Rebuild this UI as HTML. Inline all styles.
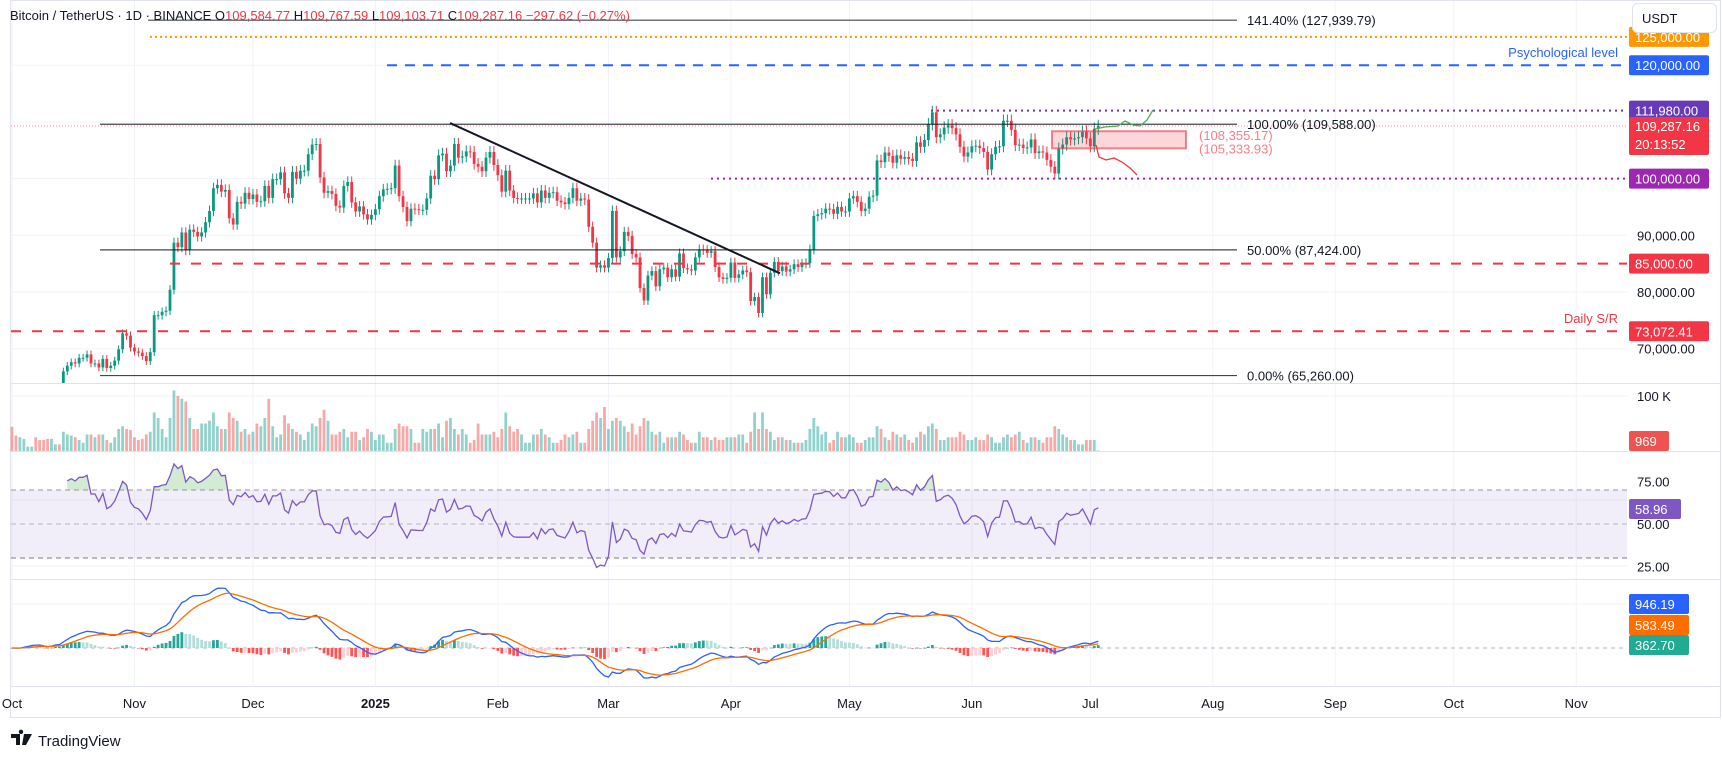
<!DOCTYPE html>
<html><head><meta charset="utf-8">
<style>
html,body{margin:0;padding:0;background:#fff;}
svg{display:block;font-family:"Liberation Sans",sans-serif;}
</style></head>
<body>
<svg id="chart" width="1722" height="760" viewBox="0 0 1722 760" xmlns="http://www.w3.org/2000/svg">
  <rect x="0" y="0" width="1722" height="760" fill="#ffffff"/>
  <g id="grid"></g>
  <rect x="11" y="490" width="1616" height="68" fill="#7e57c2" fill-opacity="0.1"/>
  <g id="main"></g>
  <g id="vol"></g>
  <g id="rsi"></g>
  <g id="macd"></g>
  <g id="draw"></g>
  <g id="axis"></g>
</svg>
<script>
// ---- data (daily, starting 2024-10-01), prices in thousands USDT
const closes = [
60.8,60.6,60.8,62.1,62.1,62.8,62.2,62.1,60.6,60.3,62.5,63.2,62.9,
66.0,67.0,67.6,67.4,68.4,68.4,69.0,67.4,67.4,66.7,68.2,66.6,67.0,67.9,69.9,72.7,72.3,70.2,
69.5,69.3,68.7,67.8,69.4,75.9,75.9,76.5,76.7,80.4,88.7,87.9,90.5,87.4,91.0,90.6,89.8,90.5,92.3,94.3,98.3,98.9,97.7,98.0,93.0,91.9,95.9,95.6,97.5,96.4,
97.2,95.9,96.0,98.7,96.6,99.9,99.9,101.1,97.4,96.6,101.2,100.0,101.4,101.4,104.3,106.0,106.1,100.2,97.5,97.8,97.3,95.2,94.9,98.7,99.4,95.8,94.2,95.1,93.7,92.8,93.6,
94.6,96.9,98.1,98.2,98.3,102.3,96.9,95.0,92.5,94.7,94.6,94.5,94.5,96.5,100.5,99.9,104.1,104.4,101.3,102.3,106.1,103.7,103.9,104.8,104.7,102.6,102.1,101.3,103.7,104.7,102.4,
100.6,97.7,101.4,97.9,96.6,96.5,96.5,96.5,96.5,97.4,95.8,97.9,96.6,97.5,97.6,96.1,95.8,95.5,96.6,98.3,96.1,96.5,96.3,91.5,88.7,84.3,84.7,84.3,
86.0,94.3,86.1,87.2,90.6,89.9,86.7,86.1,80.7,78.5,82.9,83.7,81.0,84.0,84.3,82.6,84.0,82.7,86.8,84.2,84.0,83.8,86.1,87.5,87.4,86.9,87.2,84.4,82.6,82.3,82.5,
85.2,82.5,83.1,83.8,83.5,78.4,79.1,76.3,82.6,79.6,83.4,85.3,83.7,84.5,83.6,84.0,84.9,84.4,85.0,85.1,87.5,93.4,93.7,93.9,94.7,94.6,93.8,95.0,94.2,94.2,
96.5,96.9,95.9,94.3,94.7,96.8,97.0,103.2,102.9,104.6,104.0,102.8,104.1,103.5,103.8,103.5,103.1,106.4,105.6,106.8,109.6,111.7,107.3,107.8,109.0,109.4,108.9,107.8,105.6,103.9,104.6,
105.7,105.8,105.4,104.7,101.6,104.3,105.6,105.7,110.2,110.2,108.6,105.9,106.0,105.4,105.5,106.9,104.5,104.8,104.6,103.3,102.1,100.9,105.3,106.0,107.3,106.9,107.1,107.3,108.3,107.1,
105.7,108.8,109.287
];
const firstOpen = 63.3;
const volumes = [
44,28,25,22,8,8,25,20,20,22,22,12,12,
35,30,28,25,20,15,30,30,25,30,30,20,15,25,40,45,40,38,
25,20,22,30,35,70,60,40,25,60,110,100,95,90,60,40,40,50,50,55,70,45,40,40,70,60,55,35,40,30,
35,50,45,60,95,45,25,30,65,50,40,35,30,20,35,50,45,60,75,55,30,30,35,40,25,35,35,20,25,40,35,
20,30,30,15,15,40,50,45,45,40,15,15,40,35,40,40,50,25,55,60,40,30,40,30,15,20,50,30,30,30,35,
25,40,70,45,35,40,30,15,15,30,30,40,30,25,15,15,20,30,25,30,35,15,15,40,55,70,60,80,
40,55,60,55,45,35,50,30,45,60,55,35,30,35,15,25,25,25,35,30,20,15,15,35,25,25,20,25,20,20,25,
25,25,30,30,15,35,70,40,70,40,35,20,25,25,20,20,15,15,15,20,40,60,45,30,35,15,20,35,25,25,
30,25,15,15,20,25,25,45,40,25,20,35,30,25,30,20,15,25,35,30,45,50,40,20,20,25,25,25,35,30,20,
20,25,20,20,30,25,15,15,25,30,25,30,35,20,15,25,25,20,15,25,25,45,40,30,25,20,20,12,12,20,
20,20,1
];
const monthLabels = ["Oct","Nov","Dec","2025","Feb","Mar","Apr","May","Jun","Jul","Aug","Sep","Oct","Nov"];
const monthDays = [0,31,61,92,123,151,182,212,243,273,304,335,365,396];
const priceTicks = [90,80,70];
const rsiTicks = [75,50,25];

// ---- axis functions
const NS="http://www.w3.org/2000/svg";
const PLOT_R=1627;
function xOf(d){return 12+d*3.95;}
function yP(p){return 292-(p-80)*5.67;}
function yV(v){return 451-v*0.55;}
function yR(v){return 524-(v-50)*1.7;}
function yM(v){return 648-v*0.0085;}
function el(tag,attrs,parent){const e=document.createElementNS(NS,tag);for(const k in attrs)e.setAttribute(k,attrs[k]);parent.appendChild(e);return e;}
const G=id=>document.getElementById(id);
const svg=G('chart');
const defs=el('defs',{},svg);
const cp=el('clipPath',{id:'mainclip'},defs); el('rect',{x:11,y:0,width:1616,height:383},cp);
const cp2=el('clipPath',{id:'obclip'},defs); el('rect',{x:0,y:460,width:1627,height:30},cp2);

// grid
const grid=G('grid');
monthDays.forEach(d=>{const l=el('line',{x1:xOf(d),x2:xOf(d),y1:0,y2:686,stroke:'#f0f3fa','stroke-width':1},grid);

});
[...[120,110,100,90,80,70].map(yP)].forEach(y=>{el('line',{x1:11,x2:PLOT_R,y1:y,y2:y,stroke:'#f0f3fa'},grid);});
[396,500,566,604].forEach(y=>el('line',{x1:11,x2:PLOT_R,y1:y,y2:y,stroke:'#f0f3fa'},grid));
[383,451,579,686].forEach(y=>{const l=el('line',{x1:11,x2:1720,y1:y+0.5,y2:y+0.5,stroke:'#e0e3eb'},grid);

});
el('rect',{x:10.5,y:0.5,width:1710,height:717,fill:'none',stroke:'#e0e3eb'},grid);

// candles
const main=G('main'); const mg=el('g',{'clip-path':'url(#mainclip)'},main);
const opens=closes.map((c,i)=>i===0?firstOpen:closes[i-1]);
closes.forEach((c,i)=>{
  const o=opens[i], up=c>=o, col=up?'#089981':'#f23645';
  const hi=Math.max(o,c)*1.01, lo=Math.min(o,c)*0.99, x=xOf(i);
  const w=el('line',{x1:x,x2:x,y1:yP(hi),y2:yP(lo),stroke:col,'stroke-width':1},mg);
  
  
  const t=Math.min(yP(o),yP(c)), h=Math.max(1,Math.abs(yP(o)-yP(c)));
  const b=el('rect',{x:x-1.4,y:t,width:2.8,height:h,fill:col},mg);
  
  
});

// volume
const vol=G('vol');
volumes.forEach((v,i)=>{
  const up=closes[i]>=opens[i];
  const r=el('rect',{x:xOf(i)-1.4,y:yV(v),width:2.8,height:451-yV(v),fill:up?'#26a69a':'#ef5350','fill-opacity':0.5},vol);
  
  
});

// RSI (Wilder 14)
const rsiG=G('rsi');
[[70,'#9598a1'],[50,'#b2b5be'],[30,'#787b86']].forEach(([v,c])=>{const l=el('line',{x1:11,x2:PLOT_R,y1:yR(v),y2:yR(v),stroke:c,'stroke-dasharray':'5 4'},rsiG);

});
const P=closes.map(c=>c*1000);
let ag=0,al=0; const rsi=[];
for(let i=1;i<P.length;i++){const ch=P[i]-P[i-1];const g=Math.max(ch,0),l=Math.max(-ch,0);
 if(i<=14){ag+=g/14;al+=l/14;if(i===14)rsi[i]=100-100/(1+ag/(al||1e-9));}
 else{ag=(ag*13+g)/14;al=(al*13+l)/14;rsi[i]=100-100/(1+ag/(al||1e-9));}}
const pts=[];rsi.forEach((v,i)=>{if(v!==undefined)pts.push([xOf(i),yR(v)]);});
const rp=pts.map((p,k)=>(k?'L':'M')+p[0].toFixed(1)+' '+p[1].toFixed(1)).join(' ');
const ob=el('path',{d:rp+' L'+pts[pts.length-1][0]+' 490 L'+pts[0][0]+' 490 Z',fill:'#4caf50','fill-opacity':0.25,'clip-path':'url(#obclip)'},rsiG);


const rl=el('path',{d:rp,fill:'none',stroke:'#7e57c2','stroke-width':1.3},rsiG);



// MACD
const macdG=G('macd');
el('line',{x1:11,x2:PLOT_R,y1:648,y2:648,stroke:'#b2b5be','stroke-dasharray':'4 4'},macdG);
function ema(arr,n){const k=2/(n+1);const o=[];arr.forEach((v,i)=>{o[i]=i===0?v:v*k+o[i-1]*(1-k);});return o;}
const e12=ema(P,12),e26=ema(P,26);const macd=P.map((_,i)=>e12[i]-e26[i]);const sig=ema(macd,9);
const hist=macd.map((m,i)=>m-sig[i]);
hist.forEach((h,i)=>{const prev=i?hist[i-1]:0;let c;
 if(h>=0)c=h>=prev?'#26a69a':'#b2dfdb';else c=h<prev?'#ff5252':'#ffcdd2';
 const y=yM(h);const r=el('rect',{x:xOf(i)-1.4,y:Math.min(y,648),width:2.8,height:Math.max(0.5,Math.abs(y-648)),fill:c},macdG);
 
 });
const mp=macd.map((v,i)=>(i?'L':'M')+xOf(i).toFixed(1)+' '+yM(v).toFixed(1)).join(' ');
const sp=sig.map((v,i)=>(i?'L':'M')+xOf(i).toFixed(1)+' '+yM(v).toFixed(1)).join(' ');
const ml=el('path',{d:mp,fill:'none',stroke:'#2962ff','stroke-width':1.3},macdG);


const sl=el('path',{d:sp,fill:'none',stroke:'#ff6d00','stroke-width':1.3},macdG);



// drawings
const dr=G('draw');
function hline(name,x1,p,attrs){const y=yP(p);const l=el('line',Object.assign({x1:x1,x2:PLOT_R,y1:y,y2:y},attrs),dr);return l;}
function txt(name,x,y,s,attrs){const t=el('text',Object.assign({x:x,y:y,'font-size':13},attrs),dr);t.textContent=s;return t;}
hline('current-price-line',11,109.287,{stroke:'#f23645','stroke-width':1,'stroke-dasharray':'1 2','stroke-opacity':0.6});
hline('level-125000',150,125,{stroke:'#ff9800','stroke-width':2,'stroke-dasharray':'2 3'});
hline('psychological-level-120000',387,120,{stroke:'#2962ff','stroke-width':2,'stroke-dasharray':'10 8'});
hline('level-111980',931,111.98,{stroke:'#673ab7','stroke-width':2,'stroke-dasharray':'2 4'});
hline('level-100000',711,100,{stroke:'#9c27b0','stroke-width':2,'stroke-dasharray':'2 4'});
hline('level-85000',170,85,{stroke:'#f23645','stroke-width':2,'stroke-dasharray':'10 11'});
hline('daily-sr-73072',11,73.07241,{stroke:'#f23645','stroke-width':2,'stroke-dasharray':'10 11'});
[[127.94,148,'141.40% (127,939.79)','fib-141'],[109.588,100,'100.00% (109,588.00)','fib-100'],[87.424,100,'50.00% (87,424.00)','fib-50'],[65.26,100,'0.00% (65,260.00)','fib-0']].forEach(([p,x1,s,n])=>{
 const y=yP(p);const l=el('line',{x1:x1,x2:1237,y1:y,y2:y,stroke:'#131722','stroke-width':1.2,'stroke-opacity':0.8},dr);
 
 
 txt(n+'-label',1247,y+5,s,{fill:'#131722'});});
const tl=el('line',{x1:450,y1:yP(109.8),x2:780,y2:yP(83.3),stroke:'#131722','stroke-width':2},dr);


const box=el('rect',{x:1052,y:yP(108.355),width:134,height:yP(105.334)-yP(108.355),fill:'#f23645','fill-opacity':0.2,stroke:'#f23645','stroke-opacity':0.6,'stroke-width':2},dr);


txt('zone-top-label',1199,yP(108.355)+9,'(108,355.17)',{fill:'#f7525f','fill-opacity':0.75});
txt('zone-bottom-label',1199,yP(105.334)+5,'(105,333.93)',{fill:'#f7525f','fill-opacity':0.75});
const gp=el('path',{d:'M1095 129 L1105 127 L1118 126 L1125 121 L1133 125 L1140 126 L1147 120 L1153 110',fill:'none',stroke:'#4caf50','stroke-width':1.3},dr);


const rpth=el('path',{d:'M1096 145 L1099 157 L1106 160 L1114 158 L1122 162 L1130 168 L1137 175',fill:'none',stroke:'#f23645','stroke-width':1.3},dr);


txt('psychological-level-text',1618,57,'Psychological level',{fill:'#2962ff','text-anchor':'end'});
txt('daily-sr-text',1618,323,'Daily S/R',{fill:'#f23645','text-anchor':'end'});

// header
const hd=el('text',{x:10,y:20,'font-size':13,fill:'#131722'},dr);


hd.innerHTML='Bitcoin / TetherUS · 1D · BINANCE  O<tspan fill="#f23645">109,584.77</tspan>  H<tspan fill="#f23645">109,767.59</tspan>  L<tspan fill="#f23645">109,103.71</tspan>  C<tspan fill="#f23645">109,287.16</tspan>  <tspan fill="#f23645">−297.62 (−0.27%)</tspan>';
hd.setAttribute('xml:space','preserve');

// axis
const ax=G('axis');
function tick(name,y,s){const t=el('text',{x:1637,y:y+5,'font-size':13,fill:'#131722'},ax);t.textContent=s;}
priceTicks.forEach(p=>tick('price-tick',yP(p),p.toFixed(0)+',000.00'));
tick('volume-tick',396,'100 K');
rsiTicks.forEach(v=>tick('rsi-tick',yR(v),v.toFixed(2)));
function badge(name,y,s,bg,w,h){h=h||20;const g=el('g',{},ax);
 el('rect',{x:1629,y:y-h/2,width:w||80,height:h,fill:bg,rx:2},g);
 const t=el('text',{x:1635,y:y+5,'font-size':13,fill:'#fff'},g);t.textContent=s;}
badge('badge-125000',yP(125),'125,000.00','#ff9800');
badge('badge-120000',yP(120),'120,000.00','#2962ff');
badge('badge-111980',yP(111.98),'111,980.00','#673ab7');
{const g=el('g',{},ax);
 el('rect',{x:1629,y:117,width:80,height:38,fill:'#f23645',rx:2},g);
 const a=el('text',{x:1635,y:131,'font-size':13,fill:'#fff'},g);a.textContent='109,287.16';
 const b=el('text',{x:1635,y:149,'font-size':13,fill:'#fff'},g);b.textContent='20:13:52';}
badge('badge-100000',yP(100),'100,000.00','#9c27b0');
badge('badge-85000',yP(85),'85,000.00','#f23645');
badge('badge-73072',yP(73.07241),'73,072.41','#f23645');
badge('volume-badge',441,'969','#ef5350',40);
badge('rsi-badge',509,'58.96','#7e57c2',52);
badge('macd-badge',604,'946.19','#2962ff',60);
badge('signal-badge',625,'583.49','#ff6d00',60);
badge('histogram-badge',645,'362.70','#22ab94',60);
{const g=el('g',{},ax);
 el('rect',{x:1632.5,y:3.5,width:84,height:29,rx:5,fill:'#fff',stroke:'#e0e3eb'},g);
 const t=el('text',{x:1642,y:23,'font-size':13,fill:'#131722'},g);t.textContent='USDT';}
monthLabels.forEach((m,i)=>{const t=el('text',{x:xOf(monthDays[i]),y:708,'font-size':13,fill:'#131722','text-anchor':'middle','font-weight':m==='2025'?'bold':'normal'},ax);
 t.textContent=m;
 
 });
{const g=el('g',{},ax);
 el('path',{d:'M11 734 h9 v11 h-4 v-7 h-5 z M21 734 a2.2 2.2 0 1 1 0.01 0 M24 734 h8 l-6 11 h-4 z',fill:'#131722'},g);
 const t=el('text',{x:38,y:746,'font-size':15,fill:'#131722'},g);t.textContent='TradingView';}
</script>
</body></html>
